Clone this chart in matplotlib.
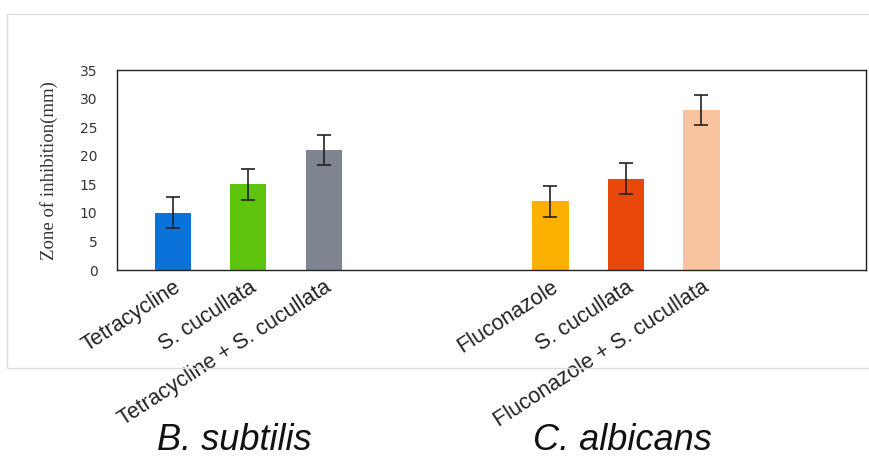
import matplotlib.pyplot as plt
from matplotlib.patches import Rectangle

labels = ["Tetracycline", "S. cucullata", "Tetracycline + S. cucullata",
          "Fluconazole", "S. cucullata", "Fluconazole + S. cucullata"]
values = [10, 15, 21, 12, 16, 28]
errors = [2.7, 2.7, 2.7, 2.7, 2.7, 2.7]
positions = [0, 1, 2, 5, 6, 7]
colors = ["#0a72d8", "#5ec40e", "#7e8590", "#fcb000", "#e8490a", "#f9c3a0"]
groups = ["B. subtilis", "C. albicans"]

plt.rcParams['font.family'] = ['Liberation Sans', 'DejaVu Sans']

fig = plt.figure(figsize=(8.69, 4.62), dpi=100)
ax = fig.add_axes([117/869, 1 - 270/462, (866-117)/869, 200/462])

ax.bar(positions, values, width=0.48, color=colors, yerr=errors,
       error_kw=dict(ecolor="#222222", elinewidth=1.2, capsize=5, capthick=1.2))

ax.set_xlim(-0.74, 9.18)
ax.set_ylim(0, 35)
ax.set_yticks(range(0, 36, 5))
ax.tick_params(axis='y', length=0, pad=14, labelsize=10, labelcolor="#333333")
ax.tick_params(axis='x', length=0, pad=5)
for t in ax.get_yticklabels():
    t.set_family('DejaVu Sans')
ax.set_xticks(positions)
ax.set_xticklabels(labels, rotation=33, ha='right', rotation_mode='anchor',
                   fontsize=15.5, color="#222222")
for s in ax.spines.values():
    s.set_linewidth(1.0)
    s.set_color("#222222")

fig.text(49/869, 1 - 171/462, "Zone of inhibition(mm)", rotation=90,
         ha='center', va='center', fontsize=13.5, family='Liberation Serif',
         color="#333333")

fig.text(234/869, 1 - 440/462, groups[0], ha='center', va='center',
         fontsize=26, style='italic', color="#111111")
fig.text(622/869, 1 - 440/462, groups[1], ha='center', va='center',
         fontsize=26, style='italic', color="#111111")

fig.patches.append(Rectangle((7/869, 1 - 368/462), 1.0, 354/462,
                             transform=fig.transFigure, fill=False,
                             edgecolor="#dddddd", linewidth=1.0))

fig.savefig("out.png", dpi=100)
